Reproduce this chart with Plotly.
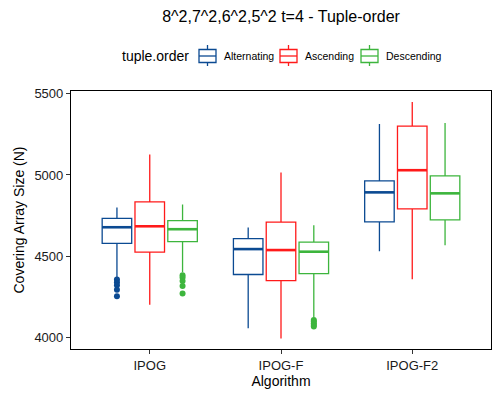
import plotly.graph_objects as go

categories = ["IPOG", "IPOG-F", "IPOG-F2"]
series = ["Alternating", "Ascending", "Descending"]
colors = ["#0B4A92", "#FF1A1A", "#3DB53D"]

lower = {
    "Alternating": [4374, 4060, 4531],
    "Ascending": [4204, 3996, 4360],
    "Descending": [4403, 4125, 4568],
}
q1 = {
    "Alternating": [4580, 4389, 4712],
    "Ascending": [4527, 4352, 4792],
    "Descending": [4591, 4395, 4724],
}
median = {
    "Alternating": [4679, 4545, 4893],
    "Ascending": [4685, 4539, 5029],
    "Descending": [4667, 4529, 4887],
}
q3 = {
    "Alternating": [4733, 4609, 4963],
    "Ascending": [4835, 4710, 5300],
    "Descending": [4720, 4588, 4994],
}
upper = {
    "Alternating": [4800, 4677, 5313],
    "Ascending": [5125, 5015, 5447],
    "Descending": [4819, 4691, 5319],
}
outliers = {
    "Alternating": [[4358, 4341, 4323, 4296, 4255], [], []],
    "Ascending": [[], [], []],
    "Descending": [[4384, 4370, 4349, 4318, 4272], [4110, 4100, 4090, 4080, 4070], []],
}

dodge = 0.25
box_w = 0.225

fig = go.Figure()
for k, s in enumerate(series):
    off = (k - 1) * dodge
    xs = [i + off for i in range(len(categories))]
    fig.add_trace(go.Box(
        name=s, x=xs, q1=q1[s], median=median[s], q3=q3[s],
        lowerfence=lower[s], upperfence=upper[s],
        width=box_w, whiskerwidth=0, fillcolor="white",
        line=dict(color=colors[k], width=1.3), boxpoints=False,
        showlegend=False, hoverinfo="skip",
    ))
    for i, x in enumerate(xs):
        fig.add_trace(go.Scatter(
            x=[x - box_w / 2, x + box_w / 2], y=[median[s][i], median[s][i]],
            mode="lines", line=dict(color=colors[k], width=2.6),
            showlegend=False, hoverinfo="skip",
        ))
        if outliers[s][i]:
            fig.add_trace(go.Scatter(
                x=[x] * len(outliers[s][i]), y=outliers[s][i], mode="markers",
                marker=dict(color=colors[k], size=6),
                showlegend=False, hoverinfo="skip",
            ))

# --- manual legend (ggplot style), positioned in pixels ---
W, H = 500, 400
ML, MR, MT, MB = 71, 9, 91, 51
pw, ph = W - ML - MR, H - MT - MB


def px(x):
    return (x - ML) / pw


def py(y):
    return (H - MB - y) / ph


font = "Liberation Sans, Arial, sans-serif"
shapes = []
annotations = [dict(text="tuple.order", x=px(120), y=py(56), xref="paper", yref="paper",
                    xanchor="left", yanchor="middle", showarrow=False,
                    font=dict(size=14, color="black"))]
leg_y = 56
for k, s in enumerate(series):
    x0 = 199 + 81 * k
    x1 = x0 + 17
    xc = (x0 + x1) / 2
    c = colors[k]
    shapes.append(dict(type="rect", xref="paper", yref="paper", x0=px(x0), x1=px(x1),
                       y0=py(leg_y - 6.5), y1=py(leg_y + 6.5), line=dict(color=c, width=1.3),
                       fillcolor="white"))
    shapes.append(dict(type="line", xref="paper", yref="paper", x0=px(xc), x1=px(xc),
                       y0=py(leg_y - 11), y1=py(leg_y - 6.5), line=dict(color=c, width=1.3)))
    shapes.append(dict(type="line", xref="paper", yref="paper", x0=px(xc), x1=px(xc),
                       y0=py(leg_y + 6.5), y1=py(leg_y + 10), line=dict(color=c, width=1.3)))
    shapes.append(dict(type="line", xref="paper", yref="paper", x0=px(x0), x1=px(x1),
                       y0=py(leg_y), y1=py(leg_y), line=dict(color=c, width=1.3)))
    annotations.append(dict(text=s, x=px(x0 + 23), y=py(leg_y + 0.5), xref="paper", yref="paper",
                            xanchor="left", yanchor="middle", showarrow=False,
                            font=dict(size=10.5, color="black")))

fig.update_layout(
    width=W, height=H,
    margin=dict(l=ML, r=MR, t=MT, b=MB, autoexpand=False),
    paper_bgcolor="white", plot_bgcolor="white",
    font=dict(family=font, color="black", size=12),
    showlegend=False,
    shapes=shapes, annotations=annotations,
    title=dict(text="8^2,7^2,6^2,5^2 t=4 - Tuple-order", x=0.562, xanchor="center",
               xref="container", yref="container",
               y=1 - 16 / 400, yanchor="middle", font=dict(size=16, color="black")),
    xaxis=dict(range=[-0.6, 2.6], tickvals=list(range(len(categories))), ticktext=categories,
               showline=True, linecolor="black", linewidth=1.2, mirror=True,
               ticks="outside", ticklen=4, tickcolor="#333", showgrid=False, zeroline=False,
               title=dict(text="Algorithm", font=dict(size=14), standoff=3),
               tickfont=dict(size=13, color="#1a1a1a")),
    yaxis=dict(range=[3932, 5515], tickvals=[4000, 4500, 5000, 5500],
               showline=True, linecolor="black", linewidth=1.2, mirror=True,
               ticks="outside", ticklen=4, tickcolor="#333", showgrid=False, zeroline=False,
               title=dict(text="Covering Array Size (N)", font=dict(size=14), standoff=6),
               tickfont=dict(size=13, color="#1a1a1a")),
)

fig.write_html("out.html", config={"displayModeBar": False},
               post_script="document.body.style.margin='0';")
